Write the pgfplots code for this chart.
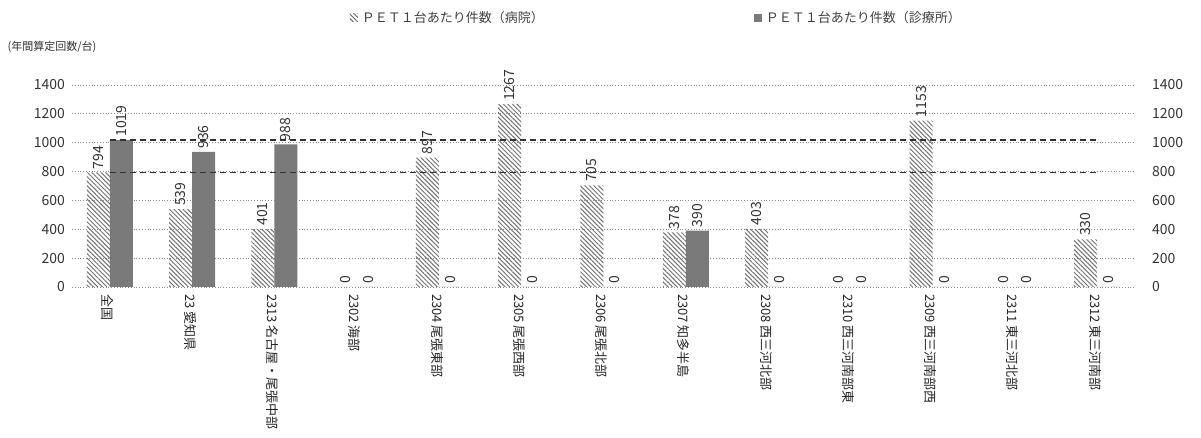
\documentclass[border=0pt]{standalone}
\usepackage{pgfplots}
\pgfplotsset{compat=1.18}
\usepackage{pgfplotstable}
\usepackage{fontspec}
\setmainfont{Noto Sans CJK JP}
\usetikzlibrary{patterns.meta}
\pgfplotstableread{
x h c
0 794 1019
1 539 936
2 401 988
3 0 0
4 897 0
5 1267 0
6 705 0
7 378 390
8 403 0
9 0 0
10 1153 0
11 0 0
12 330 0
}\data
\tikzset{hosp/.style={draw=none,pattern={Lines[angle=-45,distance=1.6pt,line width=0.5pt]},pattern color=black!55},
clin/.style={draw=none,fill=black!52}}
\begin{document}
\begin{tikzpicture}
\useasboundingbox (-36pt,-75.5pt) rectangle (564.5pt,143.5pt);
\begin{axis}[
  at={(0,0)}, anchor=south west,
  scale only axis, width=531.5pt, height=101pt,
  xmin=-0.46, xmax=12.46, ymin=0, ymax=1400,
  ytick={0,200,...,1400},
  xtick={0,...,12},
  xticklabels={全国,23 愛知県,2313 名古屋・尾張中部,2302 海部,2304 尾張東部,2305 尾張西部,2306 尾張北部,2307 知多半島,2308 西三河北部,2310 西三河南部東,2309 西三河南部西,2311 東三河北部,2312 東三河南部},
  xticklabel style={rotate=-90, anchor=west, font=\fontsize{6.5}{7}\selectfont, text=black!85, yshift=-1pt},
  yticklabel style={font=\fontsize{7}{8}\selectfont, text=black!80},
  /pgf/number format/assume math mode=true,
  /pgf/number format/1000 sep={},
  axis line style={draw=none},
  major tick length=0pt,
  ymajorgrids, grid style={black!45, densely dotted, line width=0.4pt},
  ybar=0pt, bar width=11.5pt,
  clip=false,
  nodes near coords,
  every node near coord/.append style={rotate=90, anchor=west, font=\fontsize{7}{8}\selectfont, text=black!80, inner sep=1.5pt},
  legend style={at={(0.5,1)}, xshift=27pt, yshift=33.5pt, anchor=center, draw=none, fill=none, font=\fontsize{6.5}{7}\selectfont, text=black!75, /tikz/every even column/.append style={column sep=103pt}},
  legend columns=2,
  legend image code/.code={\path[#1] (0pt,-2pt) rectangle (4pt,2pt);},
]
\addplot[hosp] table[x=x,y=h]{\data};
\addlegendentry{ＰＥＴ１台あたり件数（病院）}
\addplot[clin] table[x=x,y=c]{\data};
\addlegendentry{ＰＥＴ１台あたり件数（診療所）}
\addplot[sharp plot, nodes near coords={}, black!80, line width=0.9pt, densely dashed, forget plot, bar shift=0pt] coordinates {(0,1019) (12,1019)};
\addplot[sharp plot, nodes near coords={}, black!80, line width=0.9pt, densely dashed, forget plot, bar shift=0pt] coordinates {(0,794) (12,794)};
\node[font=\fontsize{5.5}{6}\selectfont, text=black!80] at (axis cs:-0.46,1400) [xshift=-10pt, yshift=19pt] {(年間算定回数/台)};
\end{axis}
\begin{axis}[
  at={(0,0)}, anchor=south west,
  scale only axis, width=531.5pt, height=101pt,
  xmin=-0.46, xmax=12.46, ymin=0, ymax=1400,
  ytick={0,200,...,1400},
  axis x line=none, axis y line*=right,
  axis line style={draw=none},
  major tick length=0pt,
  yticklabel style={font=\fontsize{7}{8}\selectfont, text=black!80, xshift=5pt},
  /pgf/number format/assume math mode=true,
  /pgf/number format/1000 sep={},
]
\addplot[draw=none] coordinates {(0,0)};
\node[font=\fontsize{5.5}{6}\selectfont, text=black!80] at (axis cs:12.46,1400) [xshift=8pt, yshift=19pt] {(年間算定回数/台)};
\end{axis}
\end{tikzpicture}
\end{document}
